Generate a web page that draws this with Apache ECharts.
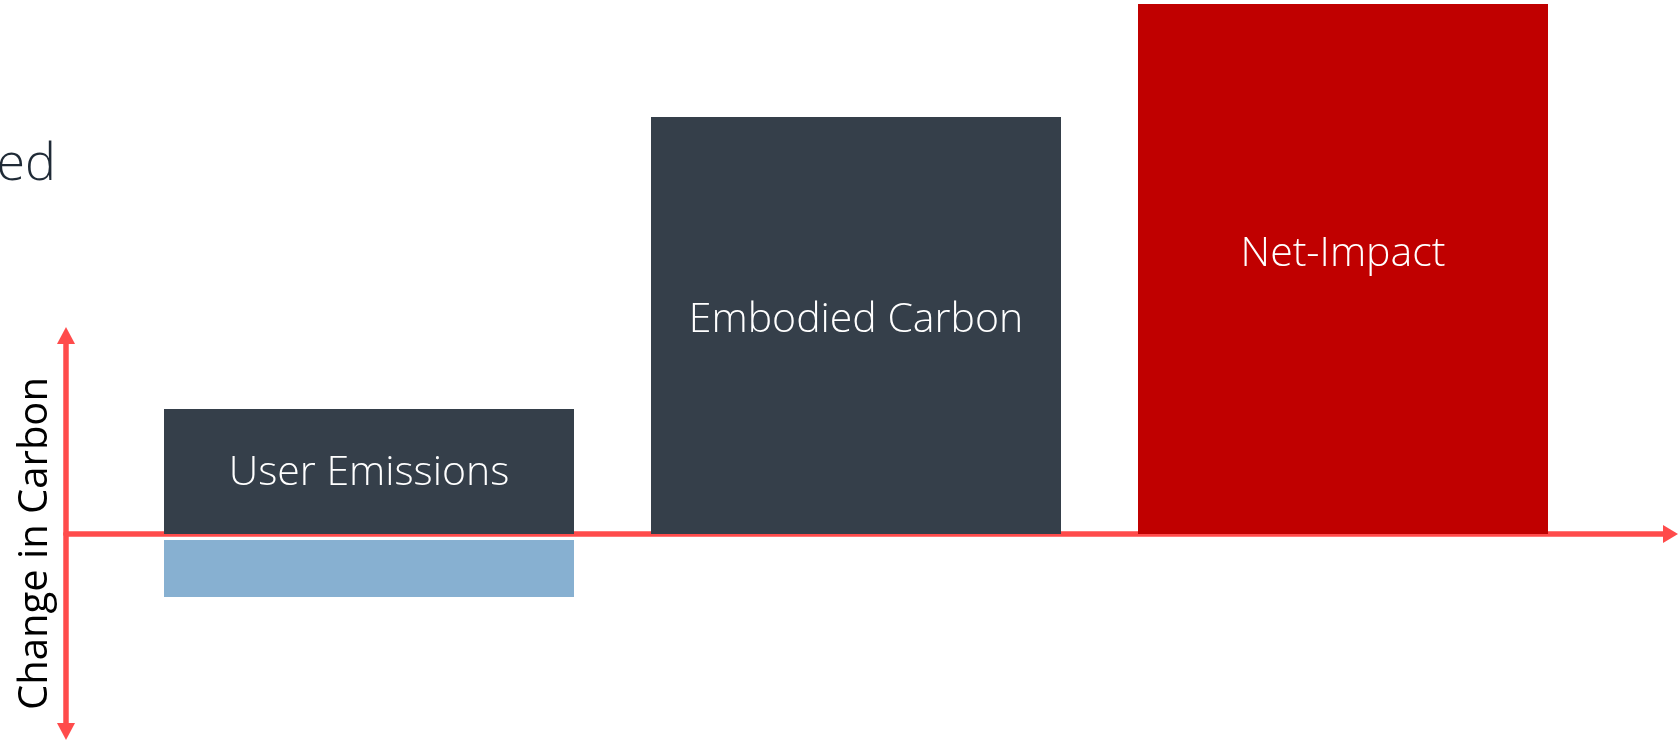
<!DOCTYPE html>
<html>
<head>
<meta charset="utf-8">
<style>
html,body{margin:0;padding:0;background:#fff;}
#chart{width:1678px;height:741px;}
</style>
<script src="https://cdn.jsdelivr.net/npm/echarts@6/dist/echarts.min.js"></script>
</head>
<body>
<div id="chart"></div>
<script>
// Data (arbitrary carbon units)
const categories = ['User Emissions', 'Embodied Carbon', 'Net-Impact'];
const mainValues = [125, 417, 530];
const gapValues = [-6, null, null];
const reductionValues = [-57, null, null];
const axisName = 'Change in Carbon';
const cornerText = 'ed';

const barColors = ['#353f4a', '#353f4a', '#c00000'];
const labelOffsets = [[0, 2], [0, -5], [0, -15]];
const FONT = '"Open Sans", Lato, sans-serif';

const chart = echarts.init(document.getElementById('chart'));
chart.setOption({
  animation: false,
  backgroundColor: '#ffffff',
  graphic: [{
    type: 'text',
    x: 56, y: 191,
    style: {
      text: cornerText,
      fill: '#1f2a36',
      font: '300 52px ' + FONT,
      textAlign: 'right',
      textVerticalAlign: 'bottom'
    }
  }],
  grid: [
    { left: 125.5, right: 91.5, top: 0, bottom: 0, containLabel: false },
    { left: 66, right: 7.5, top: 335.5, bottom: 9.5, containLabel: false }
  ],
  xAxis: [
    {
      type: 'category', gridIndex: 0, data: categories,
      axisLine: { show: false }, axisTick: { show: false }, axisLabel: { show: false },
      splitLine: { show: false }
    },
    {
      type: 'value', gridIndex: 1, min: 0, max: 100,
      axisLine: {
        show: true, onZero: true,
        symbol: ['none', 'triangle'], symbolSize: [18, 15],
        lineStyle: { color: '#ff4b4b', width: 5.5 }
      },
      axisTick: { show: false }, axisLabel: { show: false }, splitLine: { show: false }
    }
  ],
  yAxis: [
    {
      type: 'value', gridIndex: 0, min: -207, max: 534,
      axisLine: { show: false }, axisTick: { show: false }, axisLabel: { show: false },
      splitLine: { show: false }
    },
    {
      type: 'value', gridIndex: 1, min: -197.5, max: 198.5,
      name: axisName, nameLocation: 'middle', nameRotate: 90, nameGap: 10,
      nameTextStyle: {
        color: '#000000', fontFamily: FONT, fontSize: 40, fontWeight: 400,
        padding: [0, 20, 0, 0]
      },
      axisLine: {
        show: true, onZero: false,
        symbol: ['triangle', 'triangle'], symbolSize: [18, 17],
        lineStyle: { color: '#ff4b4b', width: 5.5 }
      },
      axisTick: { show: false }, axisLabel: { show: false }, splitLine: { show: false }
    }
  ],
  series: [
    {
      name: 'Carbon', type: 'bar', xAxisIndex: 0, yAxisIndex: 0, stack: 'c',
      barWidth: 410, z: 2,
      data: mainValues.map((v, i) => ({
        value: v,
        itemStyle: { color: barColors[i] },
        label: { offset: labelOffsets[i] }
      })),
      label: {
        show: true, position: 'inside',
        formatter: p => categories[p.dataIndex],
        color: '#ffffff', fontFamily: FONT, fontSize: 41, fontWeight: 300
      }
    },
    {
      name: 'Gap', type: 'bar', xAxisIndex: 0, yAxisIndex: 0, stack: 'c',
      barWidth: 410, data: gapValues,
      itemStyle: { color: 'rgba(0,0,0,0)' }
    },
    {
      name: 'Reduction', type: 'bar', xAxisIndex: 0, yAxisIndex: 0, stack: 'c',
      barWidth: 410, data: reductionValues,
      itemStyle: { color: '#87b0d1' }
    }
  ]
});
</script>
</body>
</html>
